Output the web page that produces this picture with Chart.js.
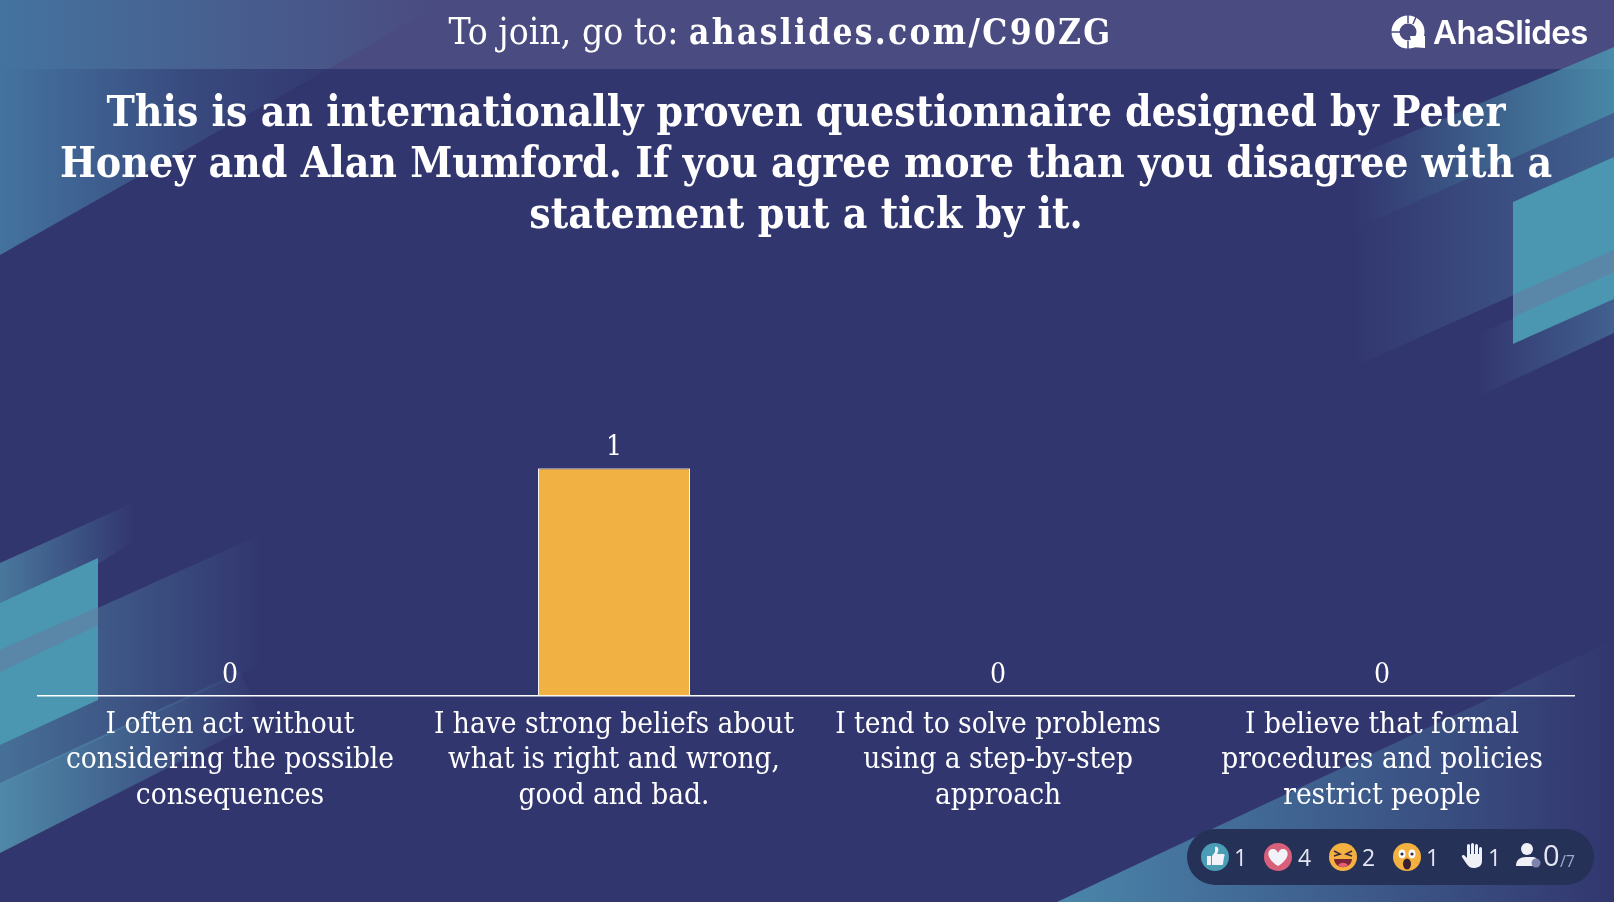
<!DOCTYPE html>
<html>
<head>
<meta charset="utf-8">
<title>AhaSlides poll</title>
<script src="https://cdn.jsdelivr.net/npm/chart.js@4/dist/chart.umd.min.js"></script>
<style>
  html, body { margin: 0; padding: 0; background: #32366f; }
  #stage { position: relative; width: 1614px; height: 902px; overflow: hidden; background: #32366f; }
  #bg, #chart, #top { position: absolute; left: 0; top: 0; }
  #join { position: absolute; left: 0; width: 1561px; top: 10px; text-align: center;
          font: 37px "DejaVu Serif Condensed", serif; color: #fff; white-space: nowrap; }
  #join b { font-size: 35px; letter-spacing: 2.3px; }
  #brand { position: absolute; left: 1433px; top: 12px; font: 600 33px Inter, sans-serif; color: #fff; letter-spacing: -0.6px; }
  #pill { position: absolute; left: 1187px; top: 829px; width: 407px; height: 56px; border-radius: 28px; background: #263158; }
  .n { position: absolute; top: 840px; font: 400 23px "Open Sans", sans-serif; color: #e4e7f2; line-height: 34px; }
</style>
</head>
<body>
<div id="stage">
  <svg id="bg" width="1614" height="902">
    <defs>
      <linearGradient id="tlHead" gradientUnits="userSpaceOnUse" x1="0" y1="0" x2="440" y2="0">
        <stop offset="0" stop-color="#44739f"/><stop offset="1" stop-color="#44739f" stop-opacity="0"/>
      </linearGradient>
      <linearGradient id="tl" gradientUnits="userSpaceOnUse" x1="0" y1="0" x2="330" y2="0">
        <stop offset="0" stop-color="#44739f"/><stop offset=".6" stop-color="#44739f" stop-opacity=".3"/><stop offset="1" stop-color="#44739f" stop-opacity=".05"/>
      </linearGradient>
      <linearGradient id="trA" gradientUnits="userSpaceOnUse" x1="1353" y1="0" x2="1614" y2="0">
        <stop offset="0" stop-color="#4b96b0" stop-opacity="0"/><stop offset="1" stop-color="#4b96b0" stop-opacity=".85"/>
      </linearGradient>
      <linearGradient id="trB" gradientUnits="userSpaceOnUse" x1="1353" y1="0" x2="1614" y2="0">
        <stop offset="0" stop-color="#4b7da5" stop-opacity="0"/><stop offset="1" stop-color="#4b7da5" stop-opacity=".6"/>
      </linearGradient>
      <linearGradient id="trC" gradientUnits="userSpaceOnUse" x1="1477" y1="0" x2="1614" y2="0">
        <stop offset="0" stop-color="#4b7da5" stop-opacity="0"/><stop offset="1" stop-color="#4b7da5" stop-opacity=".6"/>
      </linearGradient>
      <linearGradient id="blA" gradientUnits="userSpaceOnUse" x1="0" y1="0" x2="262" y2="0">
        <stop offset="0" stop-color="#4f88a8"/><stop offset="1" stop-color="#4f88a8" stop-opacity="0"/>
      </linearGradient>
      <linearGradient id="blB" gradientUnits="userSpaceOnUse" x1="0" y1="0" x2="135" y2="0">
        <stop offset="0" stop-color="#4f88a8" stop-opacity=".8"/><stop offset="1" stop-color="#4f88a8" stop-opacity="0"/>
      </linearGradient>
      <linearGradient id="br" gradientUnits="userSpaceOnUse" x1="1060" y1="0" x2="1614" y2="0">
        <stop offset="0" stop-color="#4a85aa"/><stop offset="1" stop-color="#4a85aa" stop-opacity="0"/>
      </linearGradient>
    </defs>
    <rect x="0" y="0" width="1614" height="69" fill="#4a4b80"/>
    <polygon points="0,0 448,0 328,69 0,69" fill="url(#tlHead)"/>
    <polygon points="0,69 328,69 0,255" fill="url(#tl)"/>
    <polygon points="1353,157 1614,47 1614,113 1353,230" fill="url(#trA)"/>
    <polygon points="1353,230 1614,113 1614,250 1353,367" fill="url(#trB)"/>
    <polygon points="1477,335 1614,272 1614,333 1477,397" fill="url(#trC)"/>
    <polygon points="1513,202 1614,157 1614,299 1513,344" fill="#4b96b0"/>
    <polygon points="1513,295 1614,250 1614,272 1513,317" fill="#5a86a8"/>
    <polygon points="0,563 135,502 135,540 0,628" fill="url(#blB)"/>
    <polygon points="0,652 260,535 260,665 0,785" fill="url(#blA)" fill-opacity=".7"/>
    <polygon points="0,603 98,558 98,700 0,745" fill="#4b96b0"/>
    <polygon points="0,650 98,607 98,625 0,672" fill="#5a86a8"/>
    <polygon points="0,783 240,672 262,720 0,853" fill="url(#blA)"/>
    <polygon points="1057,902 1614,640 1614,902" fill="url(#br)"/>
  </svg>

  <canvas id="chart" width="1614" height="902"></canvas>

  <svg id="top" width="1614" height="902">
    <!-- logo -->
    <g transform="translate(1408,32)">
      <circle r="12.5" fill="none" stroke="#fff" stroke-width="8"/>
      <path d="M2,4 L17,4 L17,16 L4,15 Z" fill="#fff"/>
      <path d="M-17,0 H-8 M0,-17 V-9 M8,-15 L5,-8 M0,9 V17" stroke="#4a4b80" stroke-width="1.5"/>
    </g>
  </svg>

  <div id="join">To join, go to: <b>ahaslides.com/C90ZG</b></div>
  <div id="brand">AhaSlides</div>

  <div id="pill"></div>
  <svg id="icons" width="1614" height="902" style="position:absolute;left:0;top:0">
    <g transform="translate(1215,857)">
      <circle r="14" fill="#4a9db5"/>
      <path d="M-8,-1 h4 v9 h-4 z M-3,-1 l3,-4 v-5 c3,-1 4,2 3,5 l-1,2 h6 c2,0 2,2 1,3 l-1,7 c0,1 -1,1 -2,1 h-9 z" fill="#f2f3f8"/>
    </g>
    <g transform="translate(1278,857)">
      <circle r="14" fill="#d9607a"/>
      <path d="M0,9 C-14,0 -10,-8 -5,-8 C-2,-8 -1,-6 0,-4 C1,-6 2,-8 5,-8 C10,-8 14,0 0,9 Z" fill="#f2f3f8"/>
    </g>
    <g transform="translate(1343,857)">
      <circle r="14" fill="#f4b13f"/>
      <path d="M-9,-6 l6,3 l-6,2 M9,-6 l-6,3 l6,2" stroke="#3a2a40" stroke-width="1.6" fill="none"/>
      <path d="M-9,2 H9 C8,13 -8,13 -9,2 Z" fill="#7a2438"/>
      <path d="M-5,8 C-2,5 2,5 5,8 C2,11 -2,11 -5,8 Z" fill="#e85d75"/>
    </g>
    <g transform="translate(1407,857)">
      <circle r="14" fill="#f4b13f"/>
      <ellipse cx="-5" cy="-3" rx="3.4" ry="4.4" fill="#fff"/><ellipse cx="5" cy="-3" rx="3.4" ry="4.4" fill="#fff"/>
      <circle cx="-5" cy="-3" r="1.6" fill="#3a2a40"/><circle cx="5" cy="-3" r="1.6" fill="#3a2a40"/>
      <ellipse cy="7" rx="4" ry="5.5" fill="#3a2030"/>
    </g>
    <g transform="translate(1473,856)" fill="#f0f1f6">
      <rect x="-6" y="-12" width="3" height="13" rx="1.5"/><rect x="-2" y="-13" width="3" height="14" rx="1.5"/>
      <rect x="2" y="-12" width="3" height="13" rx="1.5"/><rect x="6" y="-9" width="3" height="11" rx="1.5"/>
      <path d="M-6,-2 H9 V5 C9,10 5,12 1,12 C-3,12 -5,10 -7,7 L-11,1 C-12,-1 -9,-2 -8,0 L-6,2 Z"/>
    </g>
    <g transform="translate(1527,855)">
      <circle cy="-6" r="6" fill="#f0f1f6"/>
      <path d="M-11,11 C-11,4 -6,2 0,2 H6 C10,2 11,6 11,11 Z" fill="#f0f1f6"/>
      <circle cx="9" cy="8" r="4.5" fill="#7d83ad"/>
    </g>
  </svg>
  <span class="n" style="left:1234px">1</span>
  <span class="n" style="left:1298px">4</span>
  <span class="n" style="left:1362px">2</span>
  <span class="n" style="left:1426px">1</span>
  <span class="n" style="left:1488px">1</span>
  <span class="n" style="left:1543px;top:838px;font-size:29px">0</span>
  <span class="n" style="left:1560px;top:844px;font-size:16px;color:#a4aacb">/7</span>
</div>

<script>
var categories = [
  ['I often act without', 'considering the possible', 'consequences'],
  ['I have strong beliefs about', 'what is right and wrong,', 'good and bad.'],
  ['I tend to solve problems', 'using a step-by-step', 'approach'],
  ['I believe that formal', 'procedures and policies', 'restrict people']
];
var votes = [0, 1, 0, 0];
var question = [
  'This is an internationally proven questionnaire designed by Peter',
  'Honey and Alan Mumford. If you agree more than you disagree with a',
  'statement put a tick by it.'
];

var serif = '"DejaVu Serif Condensed", serif';

// numbers above the bars
var voteLabels = {
  id: 'voteLabels',
  afterDatasetsDraw: function(chart) {
    var ctx = chart.ctx;
    var bars = chart.getDatasetMeta(0).data;
    ctx.save();
    ctx.fillStyle = '#fff';
    ctx.font = '28px ' + serif;
    ctx.textAlign = 'center';
    ctx.textBaseline = 'alphabetic';
    bars.forEach(function(bar, i) {
      ctx.fillText(votes[i], bar.x, bar.y - 13);
    });
    ctx.restore();
  }
};

var ctx = document.getElementById('chart').getContext('2d');
new Chart(ctx, {
  type: 'bar',
  plugins: [voteLabels],
  data: {
    labels: categories,
    datasets: [{
      data: votes,
      backgroundColor: '#f2b243',
      borderColor: '#ffffff',
      borderWidth: 1,
      barPercentage: 0.396,
      categoryPercentage: 1
    }]
  },
  options: {
    responsive: false,
    animation: false,
    layout: { padding: { top: 90, left: 38, right: 40, bottom: 84.5 } },
    plugins: {
      legend: { display: false },
      tooltip: { enabled: false },
      title: {
        display: true,
        text: question,
        color: '#fff',
        font: { family: serif, size: 42.3, weight: 'bold', lineHeight: 1.2 },
        padding: { top: 0, bottom: 226 }
      }
    },
    scales: {
      x: {
        grid: { display: false },
        border: { display: true, color: '#fff', width: 1.5 },
        ticks: {
          color: '#fff',
          autoSkip: false,
          maxRotation: 0,
          minRotation: 0,
          padding: 4,
          font: { family: serif, size: 29.5, lineHeight: 1.197 }
        }
      },
      y: { display: false, min: 0, max: 1 }
    }
  }
});
</script>
</body>
</html>
